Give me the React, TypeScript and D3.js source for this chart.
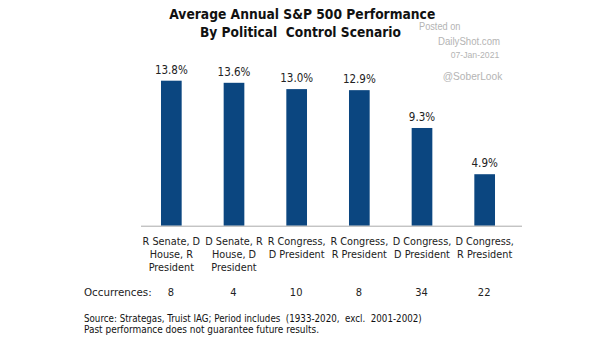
import React from "react";
import * as d3 from "d3";

const categories: string[][] = [
  ["R Senate, D", "House, R", "President"],
  ["D Senate, R", "House, D", "President"],
  ["R Congress,", "D President"],
  ["R Congress,", "R President"],
  ["D Congress,", "D President"],
  ["D Congress,", "R President"],
];
const performance: number[] = [13.8, 13.6, 13.0, 12.9, 9.3, 4.9];
const occurrences: number[] = [8, 4, 10, 8, 34, 22];
const titleLines: string[] = ["Average Annual S&P 500 Performance", "By Political  Control Scenario"];
const watermark: string[] = ["Posted on", "DailyShot.com", "07-Jan-2021", "@SoberLook"];
const sourceLines: string[] = [
  "Source: Strategas, Truist IAG; Period includes  (1933-2020,  excl.  2001-2002)",
  "Past performance does not guarantee future results.",
];

const W = 605;
const H = 341;
const FONT = "'DejaVu Sans Condensed', 'DejaVu Sans', sans-serif";
const BAR = "#0b4680";

export default function App() {
  const x = d3
    .scaleBand<number>()
    .domain(d3.range(categories.length))
    .range([140, 516])
    .paddingInner(0.67)
    .paddingOuter(0.335);
  const baseY = 225.7;
  const y = d3.scaleLinear().domain([0, 13.8]).range([baseY, 80.7]);
  const cx = (i: number) => (x(i) as number) + x.bandwidth() / 2;

  return (
    <svg
      width={W}
      height={H}
      style={{ position: "absolute", left: 0, top: 0, background: "#fff" }}
      fontFamily={FONT}
    >
      <rect width={W} height={H} fill="#fff" />
      <text x={169.3} y={18.5} fontSize={14.6} fontWeight="bold" fill="#111"
        textLength={266} lengthAdjust="spacingAndGlyphs">
        {titleLines[0]}
      </text>
      <text x={200} y={37} fontSize={14.6} fontWeight="bold" fill="#111" xmlSpace="preserve"
        textLength={201} lengthAdjust="spacingAndGlyphs">
        {titleLines[1]}
      </text>
      <g fontFamily="'Liberation Sans', Arial, sans-serif" fill="#b4b4b4">
        <text x={419} y={30} fontSize={10} textLength={41.5} lengthAdjust="spacingAndGlyphs">{watermark[0]}</text>
        <text x={438} y={45} fontSize={10} textLength={62} lengthAdjust="spacingAndGlyphs">{watermark[1]}</text>
        <text x={450.7} y={57.5} fontSize={9.5} textLength={48.6} lengthAdjust="spacingAndGlyphs">{watermark[2]}</text>
        <text x={442.7} y={80} fontSize={11} textLength={59.6} lengthAdjust="spacingAndGlyphs">{watermark[3]}</text>
      </g>
      {performance.map((v, i) => (
        <g key={i}>
          <rect
            x={x(i)}
            y={y(v)}
            width={x.bandwidth()}
            height={baseY - y(v)}
            fill={BAR}
          />
          <text
            x={cx(i)}
            y={y(v) - 7}
            textAnchor="middle"
            fontSize={11.5}
            fill="#222"
          >
            {v.toFixed(1) + "%"}
          </text>
        </g>
      ))}
      <line x1={141} x2={522} y1={baseY + 0.5} y2={baseY + 0.5} stroke="#aaa" strokeWidth={1} />
      {categories.map((lines, i) => (
        <text key={i} textAnchor="middle" fontSize={10.8} fill="#222">
          {lines.map((l, j) => (
            <tspan key={j} x={cx(i)} y={244.8 + j * 13}>
              {l}
            </tspan>
          ))}
        </text>
      ))}
      <text x={84} y={296} fontSize={11} fill="#222" textLength={67.7} lengthAdjust="spacingAndGlyphs">
        Occurrences:
      </text>
      {occurrences.map((o, i) => (
        <text key={i} x={cx(i) - 0.5} y={296} textAnchor="middle" fontSize={11} fill="#222">
          {o}
        </text>
      ))}
      <text x={84} y={322} fontSize={10} fill="#111" xmlSpace="preserve"
        textLength={337.7} lengthAdjust="spacingAndGlyphs">
        {sourceLines[0]}
      </text>
      <text x={84} y={332.5} fontSize={10} fill="#111"
        textLength={235} lengthAdjust="spacingAndGlyphs">
        {sourceLines[1]}
      </text>
    </svg>
  );
}
